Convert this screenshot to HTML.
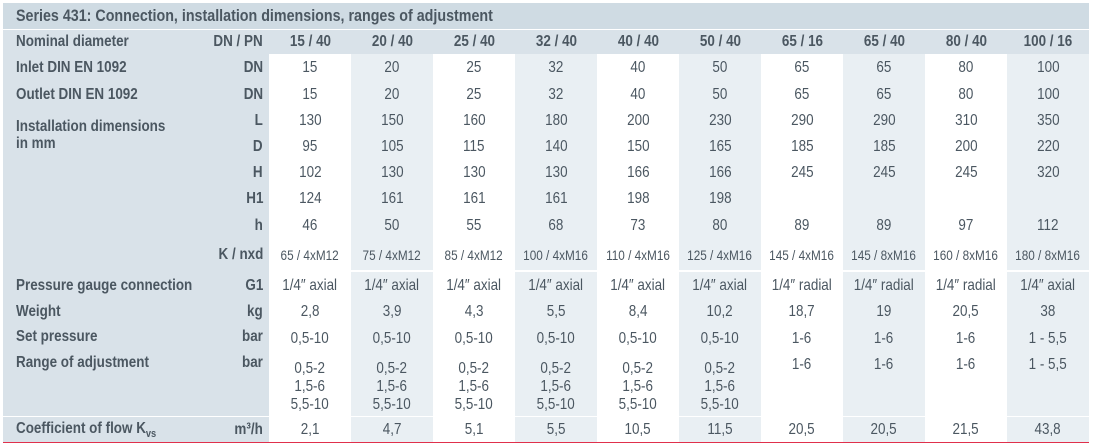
<!DOCTYPE html>
<html><head><meta charset="utf-8"><style>
html,body{margin:0;padding:0;background:#fff;width:1096px;height:446px;overflow:hidden}
body{font-family:"Liberation Sans",sans-serif;color:#4b5761}
#title{position:absolute;left:3px;top:3px;width:1086px;height:26px;background:#cfdbe3;font-weight:bold;font-size:17px;line-height:26px}
#title span{display:inline-block;transform:scaleX(.84);transform-origin:left center;margin-left:13px;white-space:nowrap}
table{position:absolute;left:3px;top:30px;width:1086px;border-collapse:collapse;table-layout:fixed;font-size:16px}
td{padding:0;text-align:center;vertical-align:middle;white-space:nowrap}
td.l{text-align:left;padding-left:13px;font-weight:bold;background:#d9e2e9}
td.u{text-align:right;padding-right:6px;font-weight:bold;background:#d9e2e9}
tr.h td{font-weight:bold;background:#d9e2e9}
td.a{background:#fff}
td.b{background:#e9eff3}
tr.k td.c{font-size:14px}
#red{position:absolute;left:3px;top:442px;width:1086px;height:1px;background:#e0304c}
td span.s{display:inline-block;transform:scaleX(.84)}
</style></head><body>
<div id="title"><span>Series 431: Connection, installation dimensions, ranges of adjustment</span></div>
<table>
<colgroup><col style="width:203px"><col style="width:63px"><col span="10" style="width:82px"></colgroup>
<tr class="h" style="height:24px"><td class="l">Nominal diameter</td><td class="u">DN / PN</td><td class="c">15 / 40</td><td class="c">20 / 40</td><td class="c">25 / 40</td><td class="c">32 / 40</td><td class="c">40 / 40</td><td class="c">50 / 40</td><td class="c">65 / 16</td><td class="c">65 / 40</td><td class="c">80 / 40</td><td class="c">100 / 16</td></tr>
<tr style="height:28px"><td class="l">Inlet DIN EN 1092</td><td class="u">DN</td><td class="c a">15</td><td class="c b">20</td><td class="c a">25</td><td class="c b">32</td><td class="c a">40</td><td class="c b">50</td><td class="c a">65</td><td class="c b">65</td><td class="c a">80</td><td class="c b">100</td></tr>
<tr style="height:26px"><td class="l">Outlet DIN EN 1092</td><td class="u">DN</td><td class="c a">15</td><td class="c b">20</td><td class="c a">25</td><td class="c b">32</td><td class="c a">40</td><td class="c b">50</td><td class="c a">65</td><td class="c b">65</td><td class="c a">80</td><td class="c b">100</td></tr>
<tr style="height:25px"><td class="l" rowspan="7" style="vertical-align:top;padding-top:10px;line-height:17px">Installation dimensions<br>in mm</td><td class="u">L</td><td class="c a">130</td><td class="c b">150</td><td class="c a">160</td><td class="c b">180</td><td class="c a">200</td><td class="c b">230</td><td class="c a">290</td><td class="c b">290</td><td class="c a">310</td><td class="c b">350</td></tr>
<tr style="height:27px"><td class="u">D</td><td class="c a">95</td><td class="c b">105</td><td class="c a">115</td><td class="c b">140</td><td class="c a">150</td><td class="c b">165</td><td class="c a">185</td><td class="c b">185</td><td class="c a">200</td><td class="c b">220</td></tr>
<tr style="height:26px"><td class="u">H</td><td class="c a">102</td><td class="c b">130</td><td class="c a">130</td><td class="c b">130</td><td class="c a">166</td><td class="c b">166</td><td class="c a">245</td><td class="c b">245</td><td class="c a">245</td><td class="c b">320</td></tr>
<tr style="height:26px"><td class="u">H1</td><td class="c a">124</td><td class="c b">161</td><td class="c a">161</td><td class="c b">161</td><td class="c a">198</td><td class="c b">198</td><td class="c a"></td><td class="c b"></td><td class="c a"></td><td class="c b"></td></tr>
<tr style="height:28px"><td class="u">h</td><td class="c a">46</td><td class="c b">50</td><td class="c a">55</td><td class="c b">68</td><td class="c a">73</td><td class="c b">80</td><td class="c a">89</td><td class="c b">89</td><td class="c a">97</td><td class="c b">112</td></tr>
<tr class="k" style="height:30px"><td class="u">K / nxd</td><td class="c a">65 / 4xM12</td><td class="c b">75 / 4xM12</td><td class="c a">85 / 4xM12</td><td class="c b">100 / 4xM16</td><td class="c a">110 / 4xM16</td><td class="c b">125 / 4xM16</td><td class="c a">145 / 4xM16</td><td class="c b">145 / 8xM16</td><td class="c a">160 / 8xM16</td><td class="c b">180 / 8xM16</td></tr>
<tr style="height:2px"><td class="u"></td><td colspan="10" style="background:#fff"></td></tr>
<tr style="height:27px"><td class="l">Pressure gauge connection</td><td class="u">G1</td><td class="c a">1/4″ axial</td><td class="c b">1/4″ axial</td><td class="c a">1/4″ axial</td><td class="c b">1/4″ axial</td><td class="c a">1/4″ axial</td><td class="c b">1/4″ axial</td><td class="c a">1/4″ radial</td><td class="c b">1/4″ radial</td><td class="c a">1/4″ radial</td><td class="c b">1/4″ axial</td></tr>
<tr style="height:26px"><td class="l">Weight</td><td class="u">kg</td><td class="c a">2,8</td><td class="c b">3,9</td><td class="c a">4,3</td><td class="c b">5,5</td><td class="c a">8,4</td><td class="c b">10,2</td><td class="c a">18,7</td><td class="c b">19</td><td class="c a">20,5</td><td class="c b">38</td></tr>
<tr style="height:27px"><td class="l" style="vertical-align:top;padding-top:3px">Set pressure</td><td class="u" style="vertical-align:top;padding-top:3px">bar</td><td class="c a">0,5-10</td><td class="c b">0,5-10</td><td class="c a">0,5-10</td><td class="c b">0,5-10</td><td class="c a">0,5-10</td><td class="c b">0,5-10</td><td class="c a">1-6</td><td class="c b">1-6</td><td class="c a">1-6</td><td class="c b">1 - 5,5</td></tr>
<tr style="height:64px;line-height:18px"><td class="l" style="vertical-align:top;padding-top:2px">Range of adjustment</td><td class="u" style="vertical-align:top;padding-top:2px">bar</td><td class="c a" style="vertical-align:top;padding-top:8px">0,5-2<br>1,5-6<br>5,5-10</td><td class="c b" style="vertical-align:top;padding-top:8px">0,5-2<br>1,5-6<br>5,5-10</td><td class="c a" style="vertical-align:top;padding-top:8px">0,5-2<br>1,5-6<br>5,5-10</td><td class="c b" style="vertical-align:top;padding-top:8px">0,5-2<br>1,5-6<br>5,5-10</td><td class="c a" style="vertical-align:top;padding-top:8px">0,5-2<br>1,5-6<br>5,5-10</td><td class="c b" style="vertical-align:top;padding-top:8px">0,5-2<br>1,5-6<br>5,5-10</td><td class="c a" style="vertical-align:top;padding-top:4px">1-6</td><td class="c b" style="vertical-align:top;padding-top:4px">1-6</td><td class="c a" style="vertical-align:top;padding-top:4px">1-6</td><td class="c b" style="vertical-align:top;padding-top:4px">1 - 5,5</td></tr>
<tr style="height:1px"><td colspan="2" style="background:#fff"></td><td colspan="10"></td></tr>
<tr style="height:26px"><td class="l">Coefficient of flow K<sub style="font-size:11px">vs</sub></td><td class="u">m³/h</td><td class="c a">2,1</td><td class="c b">4,7</td><td class="c a">5,1</td><td class="c b">5,5</td><td class="c a">10,5</td><td class="c b">11,5</td><td class="c a">20,5</td><td class="c b">20,5</td><td class="c a">21,5</td><td class="c b">43,8</td></tr>
</table>
<div id="red"></div>
<script>
document.querySelectorAll('td').forEach(function(td){
  if(!td.innerHTML.trim())return;
  var o,m;
  if(td.classList.contains('l')){o='left';m='margin-right:-60px';}
  else if(td.classList.contains('u')){o='right';m='margin-left:-30px';}
  else {o='center';m='margin:0 -20px';}
  td.innerHTML='<span class="s" style="transform-origin:'+o+' center;'+m+'">'+td.innerHTML+'</span>';
});
</script>
</body></html>
